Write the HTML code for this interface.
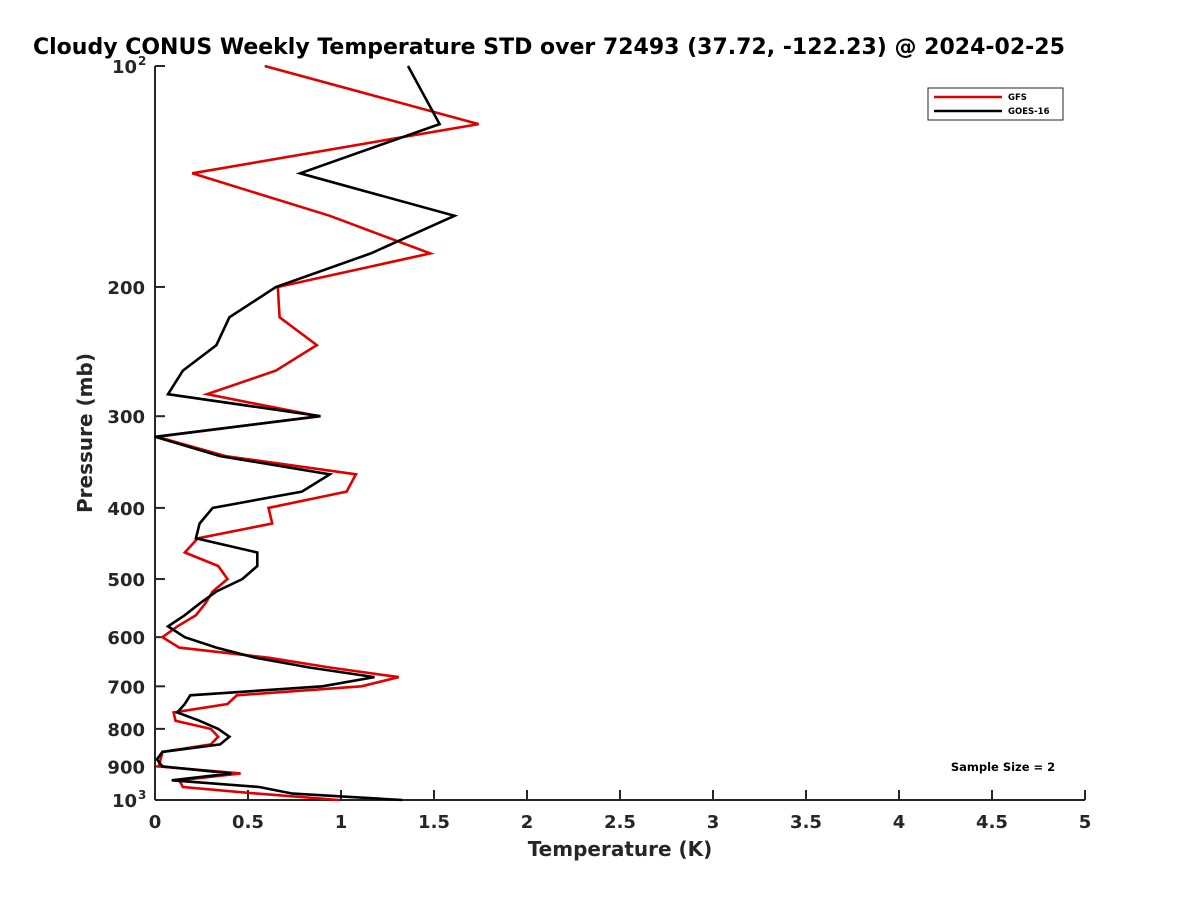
<!DOCTYPE html>
<html><head><meta charset="utf-8"><style>
body{margin:0;background:#fff;}
svg{display:block;font-family:"DejaVu Sans","Liberation Sans",sans-serif;font-weight:bold;}
</style></head><body>
<svg id="chart" width="1200" height="900" viewBox="0 0 1200 900">
<rect width="1200" height="900" fill="#fff"/>
<text x="33" y="54" font-size="22" fill="#000">Cloudy CONUS Weekly Temperature STD over 72493 (37.72, -122.23) @ 2024-02-25</text>
<g id="axes"></g>
<g id="series"></g>
<text x="620" y="856" font-size="20" text-anchor="middle" fill="#262626">Temperature (K)</text>
<text transform="translate(92,433) rotate(-90)" font-size="20" text-anchor="middle" fill="#262626">Pressure (mb)</text>
<g>
<rect x="928" y="88" width="135" height="32" fill="#fff" stroke="#262626" stroke-width="1"/>
<line x1="934" y1="97" x2="1002" y2="97" stroke="#e00000" stroke-width="2.5"/>
<text x="1008" y="100" font-size="8.5" fill="#000">GFS</text>
<line x1="934" y1="111" x2="1002" y2="111" stroke="#000" stroke-width="2.5"/>
<text x="1008" y="114" font-size="8.5" fill="#000">GOES-16</text>
</g>
<text x="1003" y="771" font-size="11.5" text-anchor="middle" fill="#000">Sample Size = 2</text>
</svg>
<script>
const pressureLevels=[100,120,140,160,180,200,220,240,260,280,300,320,340,360,380,400,420,440,460,480,500,520,540,560,580,600,620,640,660,680,700,720,740,760,780,800,820,840,860,880,900,920,940,960,980,1000];
const gfsStd=[0.59,1.74,0.20,0.94,1.48,0.66,0.67,0.87,0.65,0.28,0.88,0.01,0.38,1.08,1.03,0.61,0.63,0.23,0.16,0.34,0.39,0.31,0.27,0.22,0.12,0.04,0.13,0.61,0.94,1.31,1.11,0.44,0.39,0.10,0.11,0.30,0.34,0.30,0.04,0.03,0.02,0.46,0.13,0.15,0.55,0.99];
const goesStd=[1.36,1.53,0.78,1.61,1.16,0.65,0.40,0.33,0.15,0.07,0.89,0.00,0.35,0.94,0.79,0.31,0.24,0.22,0.55,0.55,0.47,0.33,0.24,0.16,0.07,0.16,0.33,0.54,0.83,1.18,0.90,0.19,0.16,0.12,0.24,0.34,0.40,0.35,0.04,0.01,0.04,0.41,0.09,0.56,0.74,1.33];
const xTicks=[0,0.5,1,1.5,2,2.5,3,3.5,4,4.5,5];
const xTickLabels=["0","0.5","1","1.5","2","2.5","3","3.5","4","4.5","5"];
const yTicks=[100,200,300,400,500,600,700,800,900,1000];
const yTickLabels=["10|2","200","300","400","500","600","700","800","900","10|3"];

const X0=155,X1=1085,Y0=66,Y1=800;
const xs=t=>X0+(t-0)/(5-0)*(X1-X0);
const ys=p=>Y0+(Math.log10(p)-2)*(Y1-Y0);
const NS="http://www.w3.org/2000/svg";
const axes=document.getElementById('axes'),series=document.getElementById('series');
function mk(tag,attrs,parent){const e=document.createElementNS(NS,tag);for(const k in attrs)e.setAttribute(k,attrs[k]);parent.appendChild(e);return e;}

let a=mk('line',{x1:X0,y1:Y0,x2:X0,y2:Y1,stroke:'#262626','stroke-width':2},axes);


a=mk('line',{x1:X0,y1:Y1,x2:X1,y2:Y1,stroke:'#262626','stroke-width':2},axes);



xTicks.forEach((v,i)=>{
  const x=xs(v);
  const t=mk('line',{x1:x,y1:Y1,x2:x,y2:Y1-10,stroke:'#262626','stroke-width':2},axes);
  
  
  const l=mk('text',{x:x,y:Y1+28,'font-size':18,'text-anchor':'middle',fill:'#262626'},axes);
  l.textContent=xTickLabels[i];
  
  
});
yTicks.forEach((v,i)=>{
  const y=ys(v);
  const t=mk('line',{x1:X0,y1:y,x2:X0+10,y2:y,stroke:'#262626','stroke-width':2},axes);
  
  
  const parts=yTickLabels[i].split('|');
  const l=mk('text',{x:parts.length>1?X0-18:X0-10,y:y+7,'font-size':18,'text-anchor':'end',fill:'#262626'},axes);
  l.textContent=parts[0];
  
  
  if(parts.length>1){
    const s=mk('text',{x:X0-17,y:y-1,'font-size':12,'text-anchor':'start',fill:'#262626'},axes);
    s.textContent=parts[1];
    
    
  }
});

function drawLine(vals,color,name){
  const pts=vals.map((t,i)=>xs(t).toFixed(1)+','+ys(pressureLevels[i]).toFixed(1)).join(' ');
  const pl=mk('polyline',{points:pts,fill:'none',stroke:color,'stroke-width':2.6,'stroke-linejoin':'miter'},series);
  
  
}
drawLine(gfsStd,'#e00000','gfs-line');
drawLine(goesStd,'#000000','goes16-line');
</script>
</body></html>
